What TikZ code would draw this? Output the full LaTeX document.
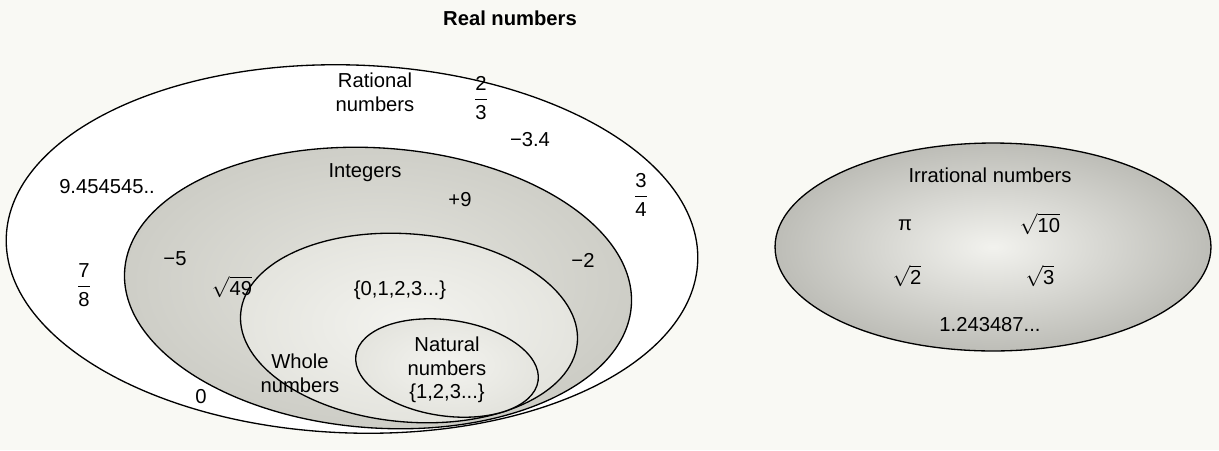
\documentclass[tikz,border=0pt]{standalone}
\usepackage{amsmath}
\usepackage{fontspec}
\setmainfont{Liberation Sans}
\definecolor{bgc}{HTML}{F9F9F4}
\definecolor{intout}{HTML}{CDCDC6}
\definecolor{intin}{HTML}{E4E4DE}
\definecolor{wholeout}{HTML}{E4E4DE}
\definecolor{wholein}{HTML}{F3F3EF}
\definecolor{irrout}{HTML}{BDBDB7}
\definecolor{irrin}{HTML}{F2F2EE}
\newcommand{\myfrac}[2]{$\dfrac{\text{#1}}{\text{#2}}$}
\newcommand{\myroot}[1]{$\sqrt{\text{#1}}$}
\tikzset{
  setline/.style={draw=black, line width=0.75pt},
  lbl/.style={font=\fontsize{11.5}{13.5}\selectfont, align=center, inner sep=1pt},
  ttl/.style={font=\fontsize{11.5}{13}\selectfont\bfseries, inner sep=1pt}
}
\begin{document}
\begin{tikzpicture}[x=0.02cm,y=-0.02cm]
\fill[bgc] (0,0) rectangle (1219,450);
\useasboundingbox (0,0) rectangle (1219,450);
% ellipses
\draw[setline, fill=white, rotate around={-2:(352,249)}] (352,249) ellipse [x radius=6.92cm, y radius=3.68cm];
\draw[setline, inner color=intin, outer color=intout, rotate around={-4:(378,288)}] (378,288) ellipse [x radius=5.08cm, y radius=2.80cm];
\draw[setline, inner color=wholein, outer color=wholeout, rotate around={-5:(409,328)}] (409,328) ellipse [x radius=3.38cm, y radius=1.88cm];
\draw[setline, inner color=wholein, outer color=wholeout, rotate around={-8:(447,368)}] (447,368) ellipse [x radius=1.84cm, y radius=0.96cm];
\draw[setline, inner color=irrin, outer color=irrout] (993,247) ellipse [x radius=4.36cm, y radius=2.08cm];
% labels
\node[ttl] (title) at (510,18) {Real numbers};
\node[lbl] (rat) at (375,92) {Rational\\numbers};
\node[lbl] (f23) at (481,98) {\myfrac{2}{3}};
\node[lbl] (m34) at (530,140) {−3.4};
\node[lbl] (f34) at (641,195) {\myfrac{3}{4}};
\node[lbl] (rep) at (107,187) {9.454545..};
\node[lbl] (f78) at (84,285) {\myfrac{7}{8}};
\node[lbl] (int) at (365,173) {Integers};
\node[lbl] (p9) at (460,200) {+9};
\node[lbl] (m5) at (175,259) {−5};
\node[lbl] (m2) at (583,260) {−2};
\node[lbl] (r49) at (232,287) {\myroot{49}};
\node[lbl] (wset) at (400,290) {\{0,1,2,3...\}};
\node[lbl] (whole) at (300,373) {Whole\\numbers};
\node[lbl] (zero) at (201,397) {0};
\node[lbl] (nat) at (447,370) {Natural\\numbers\\\{1,2,3...\}};
\node[lbl] (irr) at (990,175) {Irrational numbers};
\node[lbl] (pi) at (905,225) {π};
\node[lbl] (r10) at (1040,224) {\myroot{10}};
\node[lbl] (r2) at (907,276) {\myroot{2}};
\node[lbl] (r3) at (1040,276) {\myroot{3}};
\node[lbl] (dec) at (990,325) {1.243487...};
\end{tikzpicture}
\end{document}
